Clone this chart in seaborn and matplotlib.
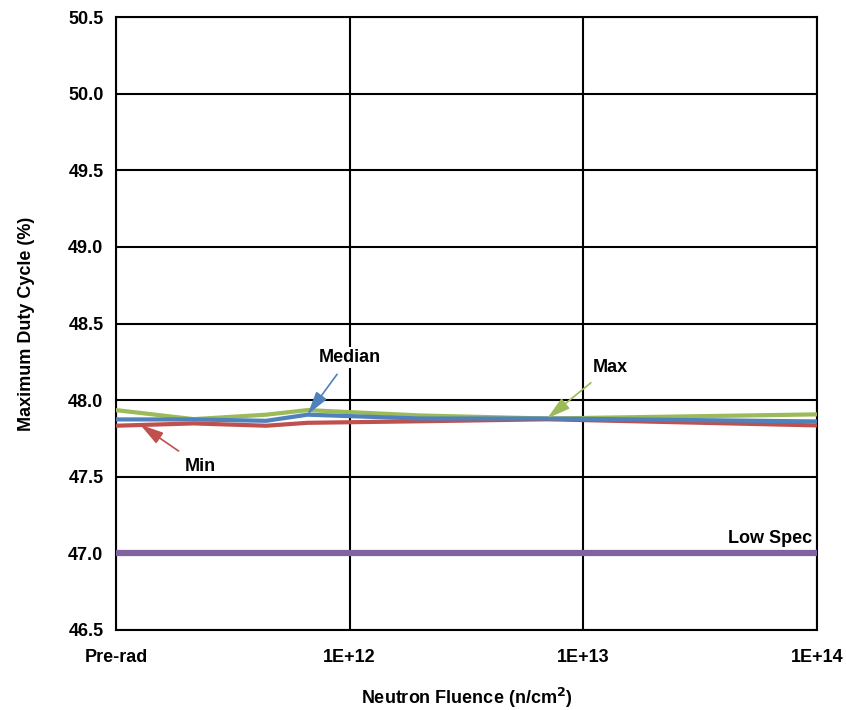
import matplotlib
matplotlib.use("Agg")
import matplotlib.pyplot as plt
import seaborn as sns
import pandas as pd
import numpy as np

# Data
fluence = [1e11, 2.15e11, 4.4e11, 6.6e11, 2e12, 7e12, 1e14]
max_vals = [47.935, 47.876, 47.905, 47.935, 47.900, 47.880, 47.907]
median_vals = [47.874, 47.874, 47.865, 47.905, 47.880, 47.880, 47.861]
min_vals = [47.833, 47.848, 47.833, 47.852, 47.862, 47.875, 47.835]
low_spec_x = [1e11, 1e14]
low_spec_vals = [47.0, 47.0]

x_ticks = [1e11, 1e12, 1e13, 1e14]
x_tick_labels = ["Pre-rad", "1E+12", "1E+13", "1E+14"]
y_ticks = [46.5, 47.0, 47.5, 48.0, 48.5, 49.0, 49.5, 50.0, 50.5]

colors = {"Max": "#9BBB59", "Median": "#4F81BD", "Min": "#C0504D", "Low Spec": "#8064A2"}

rows = []
for name, vals in [("Max", max_vals), ("Median", median_vals), ("Min", min_vals)]:
    for x, v in zip(fluence, vals):
        rows.append({"Fluence": x, "Value": v, "Series": name})
spec_rows = [{"Fluence": x, "Value": v, "Series": "Low Spec"} for x, v in zip(low_spec_x, low_spec_vals)]
df = pd.DataFrame(rows)
df_spec = pd.DataFrame(spec_rows)

sns.set_theme(style="white")
plt.rcParams['font.family'] = ['Liberation Sans', 'DejaVu Sans']
plt.rcParams['text.color'] = 'black'
plt.rcParams['axes.labelcolor'] = 'black'
plt.rcParams['xtick.color'] = 'black'
plt.rcParams['ytick.color'] = 'black'

FS = 13

fig = plt.figure(figsize=(8.46, 7.10), dpi=100)
ax = fig.add_axes([0.137, 0.1127, 0.8287, 0.8633])

sns.lineplot(data=df_spec, x="Fluence", y="Value", hue="Series", palette=colors,
             linewidth=4.5, ax=ax, legend=False, zorder=3)
sns.lineplot(data=df[df.Series == "Min"], x="Fluence", y="Value", hue="Series", palette=colors,
             linewidth=3, ax=ax, legend=False, zorder=4)
sns.lineplot(data=df[df.Series == "Median"], x="Fluence", y="Value", hue="Series", palette=colors,
             linewidth=3, ax=ax, legend=False, zorder=5)
sns.lineplot(data=df[df.Series == "Max"], x="Fluence", y="Value", hue="Series", palette=colors,
             linewidth=3, ax=ax, legend=False, zorder=3.5)

ax.set_xscale("log")
ax.set_xlim(1e11, 1e14)
ax.set_ylim(46.5, 50.5)
ax.set_xticks(x_ticks)
ax.set_xticklabels(x_tick_labels)
ax.set_yticks(y_ticks)
ax.set_yticklabels([f"{v:.1f}" for v in y_ticks])
ax.xaxis.set_minor_locator(matplotlib.ticker.NullLocator())

ax.grid(True, color="black", linewidth=1.5)
ax.set_axisbelow(True)
for s in ax.spines.values():
    s.set_color("black")
    s.set_linewidth(1.5)

ax.tick_params(axis="x", length=0, pad=14, labelsize=FS, colors="black")
ax.tick_params(axis="y", length=0, pad=9, labelsize=FS, colors="black")
for lbl in ax.get_xticklabels() + ax.get_yticklabels():
    lbl.set_fontweight("bold")

ax.set_xlabel("Neutron Fluence (n/cm$^{\\mathbf{2}}$)", fontsize=FS, fontweight="bold", labelpad=14, color="black")
ax.set_ylabel("Maximum Duty Cycle (%)", fontsize=FS, fontweight="bold", labelpad=24, color="black")

def arrow(text, xy, xytext, color):
    ax.annotate(text, xy=xy, xytext=xytext, fontsize=FS, fontweight="bold", color="black",
                ha="center", va="center", zorder=6,
                bbox=dict(boxstyle="square,pad=0.1", fc="white", ec="none"),
                arrowprops=dict(arrowstyle="-|>,head_length=0.8,head_width=0.22", color=color, lw=1.2,
                                mutation_scale=18, shrinkA=6, shrinkB=0))

arrow("Median", (fluence[3], median_vals[3]), (1.0e12, 48.28), colors["Median"])
arrow("Max", (fluence[5], max_vals[5]), (1.3e13, 48.215), colors["Max"])
arrow("Min", (1.27e11, 47.84), (2.3e11, 47.57), colors["Min"])
ax.text(6.3e13, 47.10, "Low Spec", fontsize=FS, fontweight="bold", ha="center", va="center", color="black")

fig.savefig("out.png", dpi=100)
